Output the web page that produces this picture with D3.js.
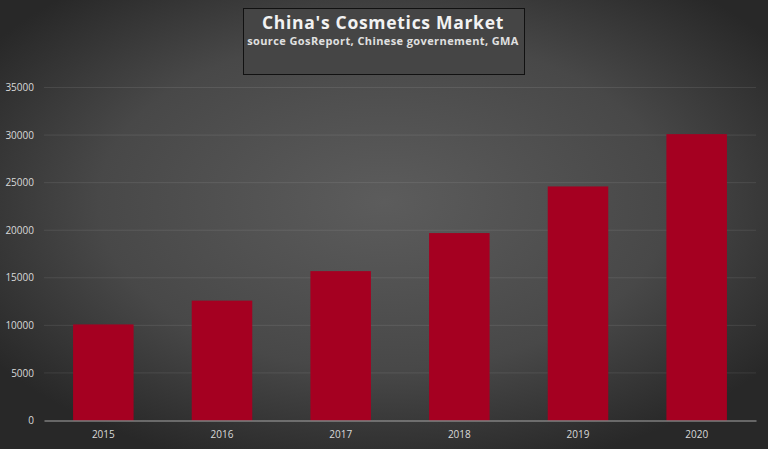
<!DOCTYPE html>
<html><head><meta charset="utf-8">
<script src="https://cdn.jsdelivr.net/npm/d3@7"></script>
<style>html,body{margin:0;padding:0;background:#333;overflow:hidden}</style>
</head><body>
<svg id="c" width="768" height="449"></svg>
<script>
const years = ["2015","2016","2017","2018","2019","2020"];
const values = [10100, 12600, 15700, 19700, 24600, 30100];
const yTicks = [0,5000,10000,15000,20000,25000,30000,35000];
const title = "China's Cosmetics Market";
const subtitle = "source GosReport, Chinese governement, GMA";

const W = 768, H = 449;
const m = {left:44, right:12, top:87.5, bottom:28.5};
const svg = d3.select("#c");
const defs = svg.append("defs");
const rg = defs.append("radialGradient").attr("id","bg").attr("cx","50%").attr("cy","45%").attr("r","62%");
rg.append("stop").attr("offset","0%").attr("stop-color","#5c5c5c");
rg.append("stop").attr("offset","60%").attr("stop-color","#484848");
rg.append("stop").attr("offset","100%").attr("stop-color","#282828");
svg.append("rect").attr("width",W).attr("height",H).attr("fill","url(#bg)");

const x = d3.scaleBand().domain(years).range([m.left, W-m.right]).paddingInner(0.49).paddingOuter(0.245);
const y = d3.scaleLinear().domain([0,35000]).range([H-m.bottom, m.top]);

// gridlines
svg.append("g").selectAll("line").data(yTicks.filter(d=>d>0)).join("line")
  .attr("x1",m.left).attr("x2",W-m.right)
  .attr("y1",d=>y(d)).attr("y2",d=>y(d))
  .attr("stroke","#ffffff").attr("stroke-opacity",0.09).attr("stroke-width",1);

// bars
svg.append("g").selectAll("rect").data(values).join("rect")
  .attr("x",(d,i)=>x(years[i])).attr("width",x.bandwidth())
  .attr("y",d=>y(d)).attr("height",d=>y(0)-y(d))
  .attr("fill","#a50021");

// y axis
const ya = svg.append("g").attr("transform",`translate(${m.left},0)`)
  .call(d3.axisLeft(y).tickValues(yTicks).tickSize(0).tickPadding(10).tickFormat(d3.format("d")));
ya.select(".domain").remove();
ya.selectAll("text").attr("fill","#d9d9d9").style("font-family","'Open Sans', sans-serif").style("font-size","10px");

// x axis
const xa = svg.append("g").attr("transform",`translate(0,${y(0)})`)
  .call(d3.axisBottom(x).tickSize(0).tickPadding(10));
xa.select(".domain").attr("stroke","#a6a6a6").attr("stroke-width",1.2);
xa.selectAll("text").attr("fill","#d9d9d9").style("font-family","'Open Sans', sans-serif").style("font-size","10px");

// title box
svg.append("rect").attr("x",243.5).attr("y",8.5).attr("width",281).attr("height",66)
  .attr("fill","#454545").attr("stroke","#111").attr("stroke-width",1);
svg.append("text").attr("x",383).attr("y",29).attr("text-anchor","middle")
  .attr("fill","#f2f2f2").style("font-family","'Open Sans', sans-serif").style("font-weight","bold").style("font-size","17.5px")
  .style("letter-spacing","0.7px").text(title);
svg.append("text").attr("x",383).attr("y",45).attr("text-anchor","middle")
  .attr("fill","#e0e0e0").style("font-family","'Open Sans', sans-serif").style("font-weight","bold").style("font-size","11px")
  .style("letter-spacing","0.4px").text(subtitle);
</script>
</body></html>
